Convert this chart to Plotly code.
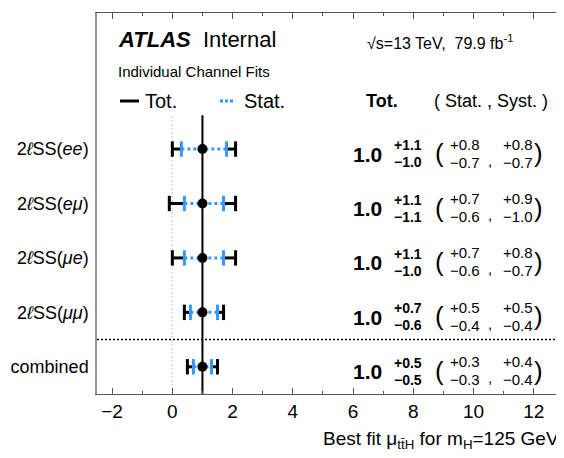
import plotly.graph_objects as go

# channel fit results
channels = ["2<i>ℓ</i>SS(<i>ee</i>)", "2<i>ℓ</i>SS(<i>eμ</i>)", "2<i>ℓ</i>SS(<i>μe</i>)",
            "2<i>ℓ</i>SS(<i>μμ</i>)", "combined"]
ypos = [4, 3, 2, 1, 0]
mu = [1.0, 1.0, 1.0, 1.0, 1.0]
tot_up = [1.1, 1.1, 1.1, 0.7, 0.5]
tot_dn = [1.0, 1.1, 1.0, 0.6, 0.5]
stat_up = [0.8, 0.7, 0.7, 0.5, 0.3]
stat_dn = [0.7, 0.6, 0.6, 0.4, 0.3]
syst_up = [0.8, 0.9, 0.8, 0.5, 0.4]
syst_dn = [0.7, 1.0, 0.7, 0.4, 0.4]
xticks = [-2, 0, 2, 4, 6, 8, 10, 12]

FONT = "Liberation Sans, Arial, Helvetica, sans-serif"
BLUE = "#3399ff"
# page body has an 8px margin, so the figure is drawn 8px smaller and offset
OFF = 8
W, H = 564 - OFF, 458 - OFF
L, R, T, B = 97 - OFF, 0, 13 - OFF, 64


def px(x):
    return (x - OFF - L) / (W - L - R)


def py(y):
    return (H - B - (y - OFF)) / (H - T - B)


fig = go.Figure()

# reference lines at 0 and at the SM value
fig.add_trace(go.Scatter(x=[0, 0], y=[-0.5, 4.62], mode="lines",
                         line=dict(color="#c8c8c8", width=1, dash="2px,2px"),
                         showlegend=False, hoverinfo="skip"))
fig.add_trace(go.Scatter(x=[mu[0], mu[0]], y=[-0.5, 4.62], mode="lines",
                         line=dict(color="black", width=2),
                         showlegend=False, hoverinfo="skip"))

# total error (outer black parts)
bx, by = [], []
for m, y, tu, td, su, sd in zip(mu, ypos, tot_up, tot_dn, stat_up, stat_dn):
    bx += [m - td, m - sd, None, m + su, m + tu, None]
    by += [y, y, None, y, y, None]
fig.add_trace(go.Scatter(x=bx, y=by, mode="lines", line=dict(color="black", width=3),
                         showlegend=False, hoverinfo="skip"))
fig.add_trace(go.Scatter(x=[m - d for m, d in zip(mu, tot_dn)] + [m + u for m, u in zip(mu, tot_up)],
                         y=ypos + ypos, mode="markers",
                         marker=dict(symbol="line-ns", size=11, line=dict(color="black", width=3)),
                         showlegend=False, hoverinfo="skip"))

# stat error (blue dotted)
sx, sy = [], []
for m, y, su, sd in zip(mu, ypos, stat_up, stat_dn):
    sx += [m - sd, m + su, None]
    sy += [y, y, None]
fig.add_trace(go.Scatter(x=sx, y=sy, mode="lines", line=dict(color=BLUE, width=3, dash="3px,3px"),
                         showlegend=False, hoverinfo="skip"))
fig.add_trace(go.Scatter(x=[m - d for m, d in zip(mu, stat_dn)] + [m + u for m, u in zip(mu, stat_up)],
                         y=ypos + ypos, mode="markers",
                         marker=dict(symbol="line-ns", size=11, line=dict(color=BLUE, width=3)),
                         showlegend=False, hoverinfo="skip"))

# central values
fig.add_trace(go.Scatter(x=mu, y=ypos, mode="markers",
                         marker=dict(symbol="circle", size=10, color="black"),
                         showlegend=False, hoverinfo="skip"))

ann = []


def txt(x, y, s, size, xanchor="left", xref="x", yref="y", yshift=0, color="black"):
    ann.append(dict(x=x, y=y, text=s, xref=xref, yref=yref, showarrow=False,
                    xanchor=xanchor, yanchor="middle", yshift=yshift,
                    font=dict(family=FONT, size=size, color=color)))


def fmt(v, sign):
    return ("+" if sign > 0 else "\u2212") + f"{v:.1f}"


for m, y, tu, td, su, sd, yu, yd in zip(mu, ypos, tot_up, tot_dn, stat_up, stat_dn, syst_up, syst_dn):
    txt(6.49, y, f"<b>{m:.1f}</b>", 21, "center", yshift=-5)
    txt(7.28, y, f"<b>{fmt(tu, 1)}</b>", 14, "left", yshift=4)
    txt(7.28, y, f"<b>{fmt(td, -1)}</b>", 14, "left", yshift=-13)
    txt(8.88, y, "(", 26, "center", yshift=-4)
    txt(9.71, y, fmt(su, 1), 15, "center", yshift=5)
    txt(9.71, y, fmt(sd, -1), 15, "center", yshift=-13)
    txt(10.54, y, ",", 15, "center", yshift=-11)
    txt(11.47, y, fmt(yu, 1), 15, "center", yshift=5)
    txt(11.47, y, fmt(yd, -1), 15, "center", yshift=-13)
    txt(12.14, y, ")", 26, "center", yshift=-4)

# header
txt(px(116), py(40), "<b><i>ATLAS</i></b>  Internal", 22, xref="paper", yref="paper")
txt(px(116), py(72), "Individual Channel Fits", 15, xref="paper", yref="paper")
txt(px(365), py(42), "√s=13 TeV,  79.9 fb<sup>-1</sup>", 16, xref="paper", yref="paper")
txt(px(143), py(101), "Tot.", 20, xref="paper", yref="paper")
txt(px(242), py(101), "Stat.", 20, xref="paper", yref="paper")
txt(px(364), py(101), "<b>Tot.</b>", 18, xref="paper", yref="paper")
txt(px(432), py(101), "( Stat. , Syst. )", 18, xref="paper", yref="paper")
# x-axis title
txt(px(561), py(440), "Best fit μ<sub>tt̄H</sub> for m<sub>H</sub>=125 GeV", 19, "right",
    xref="paper", yref="paper")

shapes = [
    dict(type="line", xref="paper", yref="paper", x0=px(120), x1=px(139), y0=py(101), y1=py(101),
         line=dict(color="black", width=3)),
    dict(type="line", xref="paper", yref="paper", x0=px(220), x1=px(233), y0=py(101), y1=py(101),
         line=dict(color=BLUE, width=3, dash="3px,2px")),
    dict(type="line", xref="paper", yref="y", x0=0, x1=1, y0=0.5, y1=0.5,
         line=dict(color="black", width=1.5, dash="2px,2px")),
]

fig.update_layout(
    width=W, height=H, margin=dict(l=L, r=R, t=T, b=B, autoexpand=False),
    plot_bgcolor="white", paper_bgcolor="white",
    font=dict(family=FONT, color="black"),
    annotations=ann, shapes=shapes, showlegend=False,
    xaxis=dict(range=[-2.5, 13.0], tickvals=xticks, automargin=False,
               ticktext=[str(t).replace("-", "\u2212") for t in xticks],
               tickfont=dict(size=19), ticks="inside", ticklen=6, tickcolor="#555",
               minor=dict(dtick=1, ticks="inside", ticklen=3, tickcolor="#555"),
               showline=True, linecolor="#555", linewidth=1, mirror="ticks",
               showgrid=False, zeroline=False, fixedrange=True),
    yaxis=dict(range=[-0.5, 6.5], tickvals=ypos, ticktext=channels, tickfont=dict(size=18),
               automargin=False,
               ticks="", showline=True, linecolor="#999", linewidth=1.5, mirror=False,
               ticklabelstandoff=3, showgrid=False, zeroline=False, fixedrange=True),
)

fig.write_html("out.html")
